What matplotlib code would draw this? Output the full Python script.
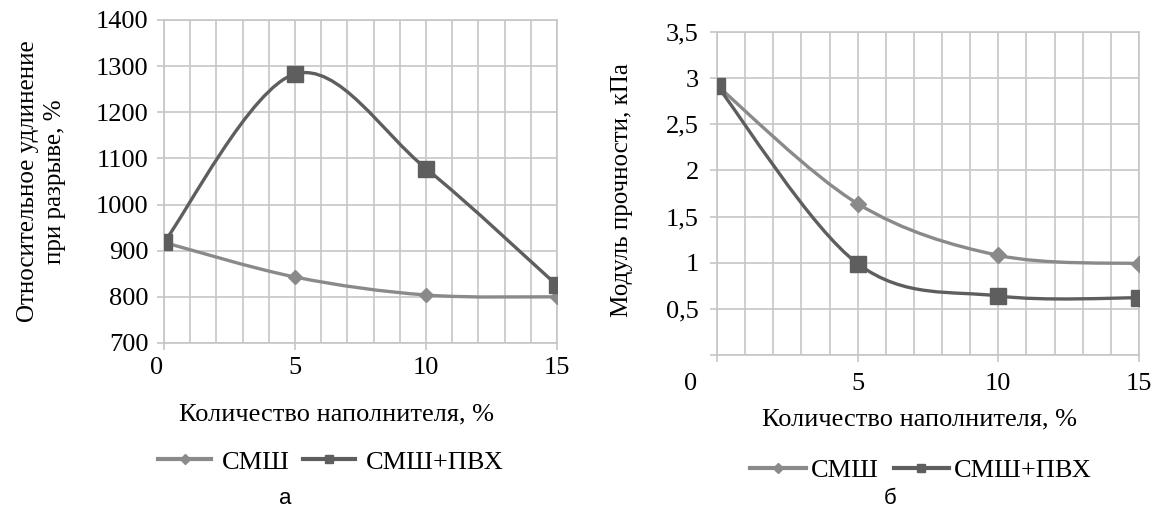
import matplotlib.pyplot as plt
import numpy as np
from matplotlib.path import Path
from matplotlib.patches import PathPatch
from matplotlib.lines import Line2D
import matplotlib.transforms as mtransforms

plt.rcParams['font.family'] = ['Liberation Serif', 'DejaVu Serif']

# data
x_fill = [0, 5, 10, 15]
elong_smsh = [918, 843, 804, 800]
elong_smsh_pvh = [918, 1283, 1078, 825]
mod_smsh = [2.92, 1.64, 1.08, 0.99]
mod_smsh_pvh = [2.92, 0.99, 0.64, 0.62]

names = ['СМШ', 'СМШ+ПВХ']
c_light = '#8a8a8a'
c_dark = '#5e5e5e'
grid_c = '#c6c6c6'


def smooth_path(xs, ys):
    # Excel-like smoothed line: bezier segments through the points
    p = np.column_stack([xs, ys]).astype(float)
    n = len(p)
    verts = [p[0]]
    codes = [Path.MOVETO]
    for i in range(n - 1):
        p0 = p[i - 1] if i > 0 else p[i]
        p3 = p[i + 2] if i + 2 < n else p[i + 1]
        c1 = p[i] + (p[i + 1] - p0) / 6
        c2 = p[i + 1] - (p3 - p[i]) / 6
        verts += [c1, c2, p[i + 1]]
        codes += [Path.CURVE4] * 3
    return Path(verts, codes)


def draw(ax, ys, color, marker, ms):
    ax.add_patch(PathPatch(smooth_path(x_fill, ys), fill=False,
                           edgecolor=color, lw=2.4, zorder=3))
    ax.plot(x_fill, ys, ls='none', marker=marker, ms=ms, color=color, zorder=4)


def style(ax, ymin, ymax, ystep, fmt, ypad, xpad, x0shift):
    ax.set_xlim(0, 15)
    ax.set_ylim(ymin, ymax)
    ax.set_xticks([0, 5, 10, 15])
    ax.set_xticks(np.arange(0, 16, 1), minor=True)
    yt = np.arange(ymin, ymax + ystep / 2, ystep)
    ax.set_yticks(yt)
    ax.set_yticklabels([fmt(v) for v in yt])
    ax.grid(True, which='both', axis='x', color=grid_c, lw=1.2)
    ax.grid(True, which='major', axis='y', color=grid_c, lw=1.2)
    ax.tick_params(axis='both', which='major', color=grid_c, width=1.2,
                   length=5, labelsize=19)
    ax.tick_params(axis='x', which='minor', length=0)
    ax.tick_params(axis='x', pad=xpad)
    ax.tick_params(axis='y', pad=ypad)
    for s in ax.spines.values():
        s.set_color(grid_c)
        s.set_linewidth(1.2)
    ax.set_axisbelow(True)
    fig.canvas.draw()
    lab = ax.get_xticklabels()[0]
    off = mtransforms.ScaledTranslation(x0shift / 100, 0, fig.dpi_scale_trans)
    lab.set_transform(lab.get_transform() + off)


fig = plt.figure(figsize=(11.54, 5.14), dpi=100)
ax1 = fig.add_axes([0.1421, 0.3327, 0.3406, 0.6284])
ax2 = fig.add_axes([0.6213, 0.3093, 0.3657, 0.6284])

draw(ax1, elong_smsh, c_light, 'D', 7)
draw(ax1, elong_smsh_pvh, c_dark, 's', 11)
style(ax1, 700, 1400, 100, lambda v: '%d' % v, 6, 5, -7)
ax1.set_ylabel('Относительное удлинение\nпри разрыве, %', fontsize=18, linespacing=1.25)
ax1.yaxis.set_label_coords(-0.25, 0.5)
ax1.set_xlabel('Количество наполнителя, %', fontsize=19)
ax1.xaxis.set_label_coords(0.438, -0.186)

draw(ax2, mod_smsh, c_light, 'D', 8)
draw(ax2, mod_smsh_pvh, c_dark, 's', 11)
style(ax2, 0, 3.5, 0.5, lambda v: '' if v == 0 else ('%g' % v).replace('.', ','),
      8, 8, -26)
ax2.set_ylabel('Модуль прочности, кПа', fontsize=18)
ax2.yaxis.set_label_coords(-0.20, 0.51)
ax2.set_xlabel('Количество наполнителя, %', fontsize=19)
ax2.xaxis.set_label_coords(0.479, -0.164)

handles = [Line2D([], [], color=c_light, lw=3, marker='D', ms=5),
           Line2D([], [], color=c_dark, lw=3, marker='s', ms=6)]
ax1.legend(handles, names, loc='center', bbox_to_anchor=(0.425, -0.368), ncol=2,
           frameon=False, fontsize=19, handlelength=2.0, handletextpad=0.4,
           columnspacing=0.5)
ax2.legend(handles, names, loc='center', bbox_to_anchor=(0.484, -0.356), ncol=2,
           frameon=False, fontsize=19, handlelength=2.1, handletextpad=0.2,
           columnspacing=0.55)

fig.text(285 / 1154, 1 - 498 / 514, 'а', family='Liberation Sans', fontsize=16,
         ha='center', va='center')
fig.text(890 / 1154, 1 - 498 / 514, 'б', family='Liberation Sans', fontsize=16,
         ha='center', va='center')

fig.savefig('out.png', dpi=100)
